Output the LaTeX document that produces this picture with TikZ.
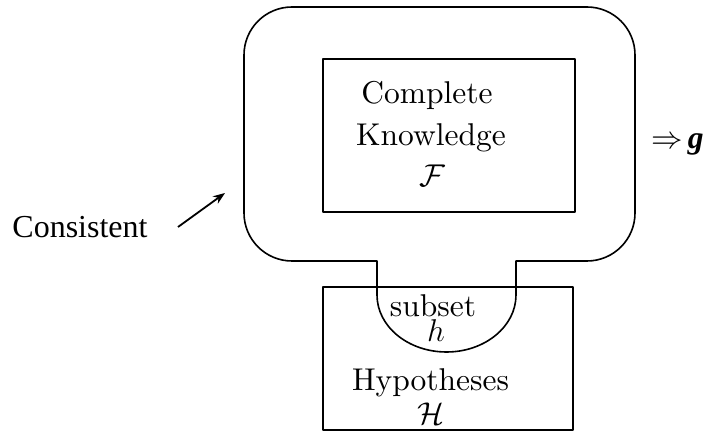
\RequirePackage{fix-cm}
\documentclass[tikz,border=0pt]{standalone}
\usepackage{fontspec}
\newfontfamily\timesf{Liberation Serif}
\newfontfamily\cmtext{lmroman10-regular.otf}
\usetikzlibrary{arrows.meta}
\tikzset{
  outline/.style={line width=1.6pt, line join=round},
  lbl/.style={font=\cmtext\fontsize{31.5}{38}\selectfont, inner sep=0pt, anchor=base},
  tlbl/.style={font=\timesf\fontsize{32}{38}\selectfont, inner sep=0pt, anchor=base},
  pointer/.style={line width=1.8pt, -{Stealth[length=12pt,width=9pt]}}
}
\begin{document}
\begin{tikzpicture}[x=1pt,y=1pt]
\useasboundingbox (0,0) rectangle (707,441);
% outer rounded region with neck and U-shaped bottom (subset h)
\draw[outline] (377,180) -- (292,180)
  arc[start angle=270,end angle=180,radius=48pt] -- (244,386)
  arc[start angle=180,end angle=90,radius=48pt] -- (587,434)
  arc[start angle=90,end angle=0,radius=48pt] -- (635,228)
  arc[start angle=0,end angle=-90,radius=48pt] -- (516,180) -- (516,146)
  arc[start angle=0,end angle=-180,x radius=69.5pt,y radius=57pt] -- cycle;
% inner knowledge box
\node[outline, draw, inner sep=0pt, minimum width=252pt, minimum height=153pt] (kbox) at (449,305.5) {};
% hypotheses box
\node[outline, draw, inner sep=0pt, minimum width=250pt, minimum height=143pt] (hbox) at (448,82.5) {};
% labels
\node[lbl] (complete) at (427,337) {Complete};
\node[lbl] (knowledge) at (431,295) {Knowledge};
\node[lbl] (calF) at (432,254) {$\mathcal{F}$};
\node[lbl] (subset) at (433,124) {subset};
\node[lbl] (hsmall) at (436,99) {$h$};
\node[lbl] (hyp) at (430.5,50) {Hypotheses};
\node[lbl] (calH) at (431,16) {$\mathcal{H}$};
\node[tlbl] (consistent) at (80,203) {Consistent};
\node[lbl, anchor=base west] (impl) at (651,292) {$\Rightarrow$\,{\timesf\bfseries\itshape g}};
% pointer arrow
\coordinate (arrS) at (178,214);
\coordinate (arrE) at (225,248);
\draw[pointer] (arrS) -- (arrE);
\end{tikzpicture}
\end{document}
